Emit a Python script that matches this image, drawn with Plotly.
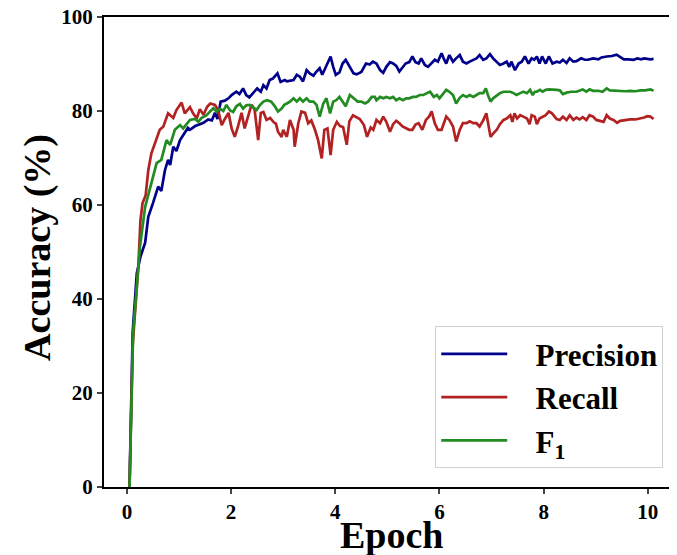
import plotly.graph_objects as go

# Precision (blau)
prec_epoch = [0.05, 0.11, 0.19, 0.26, 0.35, 0.41, 0.5, 0.6, 0.66, 0.73, 0.79, 0.83, 0.89, 0.95, 1.02, 1.11, 1.17, 1.21,
              1.31, 1.4, 1.47, 1.56, 1.63, 1.69, 1.74, 1.8, 1.88, 1.95, 2.01, 2.1, 2.16, 2.23, 2.29, 2.35, 2.43, 2.5,
              2.57, 2.62, 2.68, 2.74, 2.8, 2.89, 2.95, 3.03, 3.07, 3.13, 3.2, 3.26, 3.32, 3.38, 3.45, 3.51, 3.58, 3.63,
              3.7, 3.75, 3.83, 3.91, 3.96, 4.01, 4.08, 4.14, 4.2, 4.28, 4.35, 4.41, 4.5, 4.59, 4.66, 4.72, 4.79, 4.86,
              4.92, 4.98, 5.05, 5.11, 5.17, 5.23, 5.29, 5.35, 5.42, 5.48, 5.54, 5.6, 5.65, 5.72, 5.78, 5.85, 5.91, 5.97,
              6.04, 6.08, 6.13, 6.19, 6.26, 6.32, 6.39, 6.45, 6.52, 6.58, 6.65, 6.71, 6.77, 6.84, 6.9, 6.97, 7.03, 7.1,
              7.16, 7.23, 7.29, 7.34, 7.38, 7.45, 7.52, 7.58, 7.64, 7.71, 7.77, 7.82, 7.87, 7.92, 7.97, 8.04, 8.1, 8.17,
              8.25, 8.31, 8.37, 8.44, 8.5, 8.57, 8.63, 8.72, 8.79, 8.85, 8.95, 9.05, 9.11, 9.21, 9.31, 9.4, 9.47, 9.54,
              9.63, 9.73, 9.8, 9.87, 9.93, 10.0, 10.05, 10.11]
prec_vals = [0, 32.8, 45.5, 49, 52, 57.5, 60.4, 63.9, 63, 67.4, 69.6, 68.5, 72.4, 71.5, 73.8, 75.3, 76.4, 76,
             76.8, 77.2, 77.5, 78.2, 78, 79.6, 78.3, 82, 82.2, 82.7, 83.4, 84.1, 83.6, 84.8, 83.4, 82.9, 84, 84.8,
             84.1, 85.5, 84.8, 86.6, 86.9, 88, 86.2, 86.6, 86.3, 86.5, 86.6, 87.7, 87.3, 86.3, 88.7, 88, 87.5, 88.3,
             89.1, 87.7, 89.8, 91.6, 89.4, 87.7, 88.2, 90.1, 90.9, 89.4, 88, 87.8, 88.3, 90.1, 89.9, 90.5, 90.1, 88.7,
             88.1, 89.4, 90.4, 90.1, 89.6, 88.4, 89.2, 90.1, 90.4, 91.6, 90.4, 90.1, 91.2, 89.8, 89.4, 90.1, 90.9, 90.5,
             92.3, 91.2, 90.1, 91.9, 90.5, 91.2, 91.9, 90.5, 90.1, 90.5, 90.9, 91.2, 91.9, 90.9, 91.2, 92.1, 91.2, 90.5,
             89.8, 90.1, 90.5, 89.4, 90.5, 88.7, 90.1, 90.5, 91.6, 90.1, 91.2, 90.9, 91.6, 90.1, 91.6, 90.1, 91.6, 90.1,
             90.5, 90.3, 90.9, 90.2, 91.2, 90.5, 90.6, 91.2, 90.9, 90.9, 91.2, 91, 91.4, 91.6, 91.7, 92, 91.4, 91,
             91, 90.9, 91.2, 91, 91.2, 91, 91, 91.1]

# Recall (rot)
rec_epoch = [0.05, 0.11, 0.2, 0.22, 0.26, 0.3, 0.36, 0.41, 0.47, 0.56, 0.63, 0.7, 0.79, 0.89, 0.95, 1.05, 1.11, 1.21,
             1.27, 1.34, 1.4, 1.47, 1.54, 1.6, 1.69, 1.75, 1.82, 1.88, 1.95, 2.01, 2.07, 2.13, 2.2, 2.26, 2.33, 2.39,
             2.45, 2.52, 2.57, 2.62, 2.68, 2.75, 2.82, 2.86, 2.9, 2.97, 3.0, 3.07, 3.13, 3.2, 3.22, 3.29, 3.35, 3.42,
             3.48, 3.54, 3.61, 3.67, 3.74, 3.79, 3.85, 3.91, 3.96, 4.03, 4.09, 4.15, 4.22, 4.27, 4.34, 4.4, 4.47, 4.55,
             4.61, 4.68, 4.73, 4.79, 4.86, 4.92, 4.98, 5.05, 5.11, 5.17, 5.23, 5.29, 5.35, 5.42, 5.48, 5.54, 5.6, 5.67,
             5.74, 5.8, 5.85, 5.91, 5.97, 6.04, 6.13, 6.19, 6.26, 6.32, 6.39, 6.45, 6.52, 6.58, 6.65, 6.71, 6.77, 6.84,
             6.9, 6.94, 6.98, 7.03, 7.1, 7.16, 7.23, 7.29, 7.36, 7.4, 7.44, 7.49, 7.55, 7.61, 7.68, 7.73, 7.77, 7.83,
             7.87, 7.92, 7.98, 8.04, 8.1, 8.16, 8.25, 8.31, 8.37, 8.44, 8.5, 8.57, 8.63, 8.69, 8.75, 8.82, 8.88, 8.95,
             9.01, 9.08, 9.15, 9.21, 9.27, 9.34, 9.41, 9.47, 9.57, 9.66, 9.76, 9.87, 9.93, 9.99, 10.05, 10.11]
rec_vals = [0, 30, 44, 47, 56.8, 60.4, 62.1, 67.4, 71, 73.8, 76, 76.7, 79.5, 78.5, 80.2, 81.8, 79.5, 80.8,
            79.5, 78.4, 80.4, 79.2, 80.9, 81.6, 81.3, 80.2, 77, 78.3, 79.6, 76.3, 74.5, 76.6, 79.6, 76.3, 79.1, 81.3,
            80.4, 73.8, 79.6, 79.8, 78.1, 78.5, 77.6, 77.3, 75.6, 74.5, 76, 74.5, 78.1, 76, 72.4, 77.4, 79.9, 79.6,
            77.4, 78, 76, 73.8, 69.9, 76, 76.3, 70.6, 76, 77.7, 76.8, 76.6, 72.8, 77.8, 79.1, 78.8, 78.3, 77,
            74.5, 76.5, 76, 78.1, 77.4, 78.8, 77.7, 75.6, 77.2, 77.9, 77.4, 76.7, 76.3, 76, 76, 77.1, 77.4, 76,
            78.1, 78.8, 79.9, 77.4, 76, 76, 78.8, 78.1, 76.7, 73.5, 76, 77.4, 77.4, 77.8, 77.4, 77.4, 76.7, 78,
            79.5, 76.7, 74.5, 75.2, 76, 77.2, 78.1, 78.4, 79.1, 77.7, 79.5, 78.4, 79.1, 78.8, 78.4, 77.2, 79.1, 78.8,
            77.2, 78.4, 78.8, 79.1, 79.9, 79.5, 78.3, 78.1, 78.8, 78.1, 79.1, 78.1, 78.6, 78.2, 78.7, 78.1, 79.1, 78.8,
            78.1, 77.9, 77.7, 79.1, 78.4, 78.1, 77.5, 77.9, 78.1, 78.2, 78.2, 78.4, 78.6, 78.9, 78.8, 78.3]

# F1 (gruen)
f1_epoch = [0.05, 0.12, 0.2, 0.25, 0.35, 0.47, 0.57, 0.66, 0.76, 0.83, 0.92, 1.02, 1.08, 1.21, 1.31, 1.37, 1.43, 1.53,
            1.6, 1.66, 1.72, 1.79, 1.85, 1.91, 1.98, 2.04, 2.1, 2.17, 2.23, 2.29, 2.36, 2.42, 2.49, 2.55, 2.62, 2.69,
            2.77, 2.84, 2.9, 2.97, 3.02, 3.07, 3.13, 3.2, 3.26, 3.32, 3.38, 3.45, 3.51, 3.58, 3.64, 3.7, 3.77, 3.83,
            3.9, 3.96, 4.02, 4.08, 4.14, 4.2, 4.28, 4.35, 4.43, 4.5, 4.57, 4.63, 4.7, 4.76, 4.79, 4.86, 4.92, 4.98,
            5.05, 5.11, 5.17, 5.23, 5.3, 5.36, 5.42, 5.49, 5.55, 5.62, 5.69, 5.76, 5.82, 5.89, 5.95, 6.0, 6.07, 6.13,
            6.19, 6.26, 6.32, 6.39, 6.45, 6.52, 6.58, 6.65, 6.71, 6.77, 6.84, 6.89, 6.93, 6.98, 7.03, 7.1, 7.16, 7.23,
            7.29, 7.36, 7.42, 7.48, 7.55, 7.61, 7.68, 7.74, 7.79, 7.83, 7.87, 7.93, 7.98, 8.04, 8.1, 8.16, 8.25, 8.31,
            8.37, 8.44, 8.53, 8.63, 8.69, 8.75, 8.82, 8.88, 8.95, 9.05, 9.13, 9.21, 9.27, 9.37, 9.47, 9.57, 9.66, 9.76,
            9.86, 9.95, 10.05, 10.11]
f1_vals = [0, 33, 44, 51.1, 59.6, 64.6, 68.9, 69.6, 73.8, 72.8, 76, 77, 76.3, 78.1, 78.3, 77.7, 78.5, 79.1,
           79.8, 80.6, 79.9, 80.5, 80, 81.3, 80.1, 79.8, 81, 81.5, 80.5, 81.2, 81.3, 80.8, 80.2, 81.2, 82, 82.3,
           82, 81, 79.9, 80.5, 81.3, 81.6, 82, 82.7, 82, 82.7, 82, 82.7, 82, 82, 81.3, 78.8, 81.6, 82.7,
           79.5, 82, 82.3, 83, 82, 81, 83.4, 82.7, 82, 82, 81.6, 82, 83, 83, 82.3, 83, 82.7, 83,
           82.7, 83, 82.3, 82.7, 82.3, 82.7, 82.7, 83, 83, 83.4, 83.4, 83.8, 84.1, 83, 83.4, 82.7, 83.8, 84.5,
           84.1, 83.4, 81.6, 82.8, 83.4, 83, 83.4, 83, 83.4, 83.8, 83.8, 84.8, 83.4, 82, 82.7, 83.4, 83.8, 84.1,
           84.1, 84.1, 83.8, 83.4, 83.8, 84.1, 83.8, 84.5, 83.4, 84.1, 84.1, 84.5, 84.1, 84.5, 84.6, 84.6, 84.5, 84.4,
           83.6, 83.9, 84.1, 84.1, 84.4, 84.6, 84.1, 84.6, 84.3, 84.3, 84.1, 84.8, 84.4, 84.3, 84.3, 84.2, 84.3, 84.2,
           84.4, 84.4, 84.6, 84.3]

x_ticks = [0, 2, 4, 6, 8, 10]
y_ticks = [0, 20, 40, 60, 80, 100]

serif = "Liberation Serif, Times New Roman, serif"
pad = '\u00a0\u00a0\u00a0'  # Abstand zwischen Linie und Text in der Legende

fig = go.Figure()
fig.add_trace(go.Scatter(x=prec_epoch, y=prec_vals, mode='lines', name=pad + 'Precision',
                         line=dict(color='#00008B', width=2.7)))
fig.add_trace(go.Scatter(x=rec_epoch, y=rec_vals, mode='lines', name=pad + 'Recall',
                         line=dict(color='#B22222', width=2.7)))
fig.add_trace(go.Scatter(x=f1_epoch, y=f1_vals, mode='lines', name=pad + 'F<sub>1</sub>',
                         line=dict(color='#228B22', width=2.7)))

# Seite hat 8px Rand -> Figur 8px kleiner
fig.update_layout(
    width=669, height=547,
    margin=dict(l=96, r=0, t=9, b=68),
    plot_bgcolor='white', paper_bgcolor='white',
    font=dict(family=serif, color='black', weight='bold'),
    legend=dict(x=0.976, y=0.04, xanchor='right', yanchor='bottom',
                bgcolor='white', bordercolor='#d0d0d0', borderwidth=1,
                font=dict(size=31, family=serif, weight='bold'),
                itemwidth=66),
    xaxis=dict(range=[-0.44, 10.56], tickvals=x_ticks, ticks='outside', ticklen=5, tickwidth=1.5,
               showline=True, linecolor='black', linewidth=2, mirror=True, showgrid=False, zeroline=False,
               tickfont=dict(size=21, family=serif, weight='bold'), automargin=False,
               ticklabeloverflow='allow'),
    yaxis=dict(range=[0, 100], tickvals=y_ticks, ticks='outside', ticklen=5, tickwidth=1.5,
               showline=True, linecolor='black', linewidth=2, showgrid=False, zeroline=False,
               tickfont=dict(size=21, family=serif, weight='bold'), automargin=False,
               ticklabeloverflow='allow'),
)

# Achsentitel als Annotationen, damit sie genau sitzen
fig.add_annotation(text='Epoch', xref='paper', yref='paper', x=0.501, y=-0.102,
                   xanchor='center', yanchor='middle', showarrow=False,
                   font=dict(size=38, family=serif, weight='bold'))
fig.add_annotation(text='Accuracy (%)', xref='paper', yref='paper', x=-0.115, y=0.509,
                   xanchor='center', yanchor='middle', showarrow=False, textangle=-90,
                   font=dict(size=38, family=serif, weight='bold'))

fig.write_html("out.html")
